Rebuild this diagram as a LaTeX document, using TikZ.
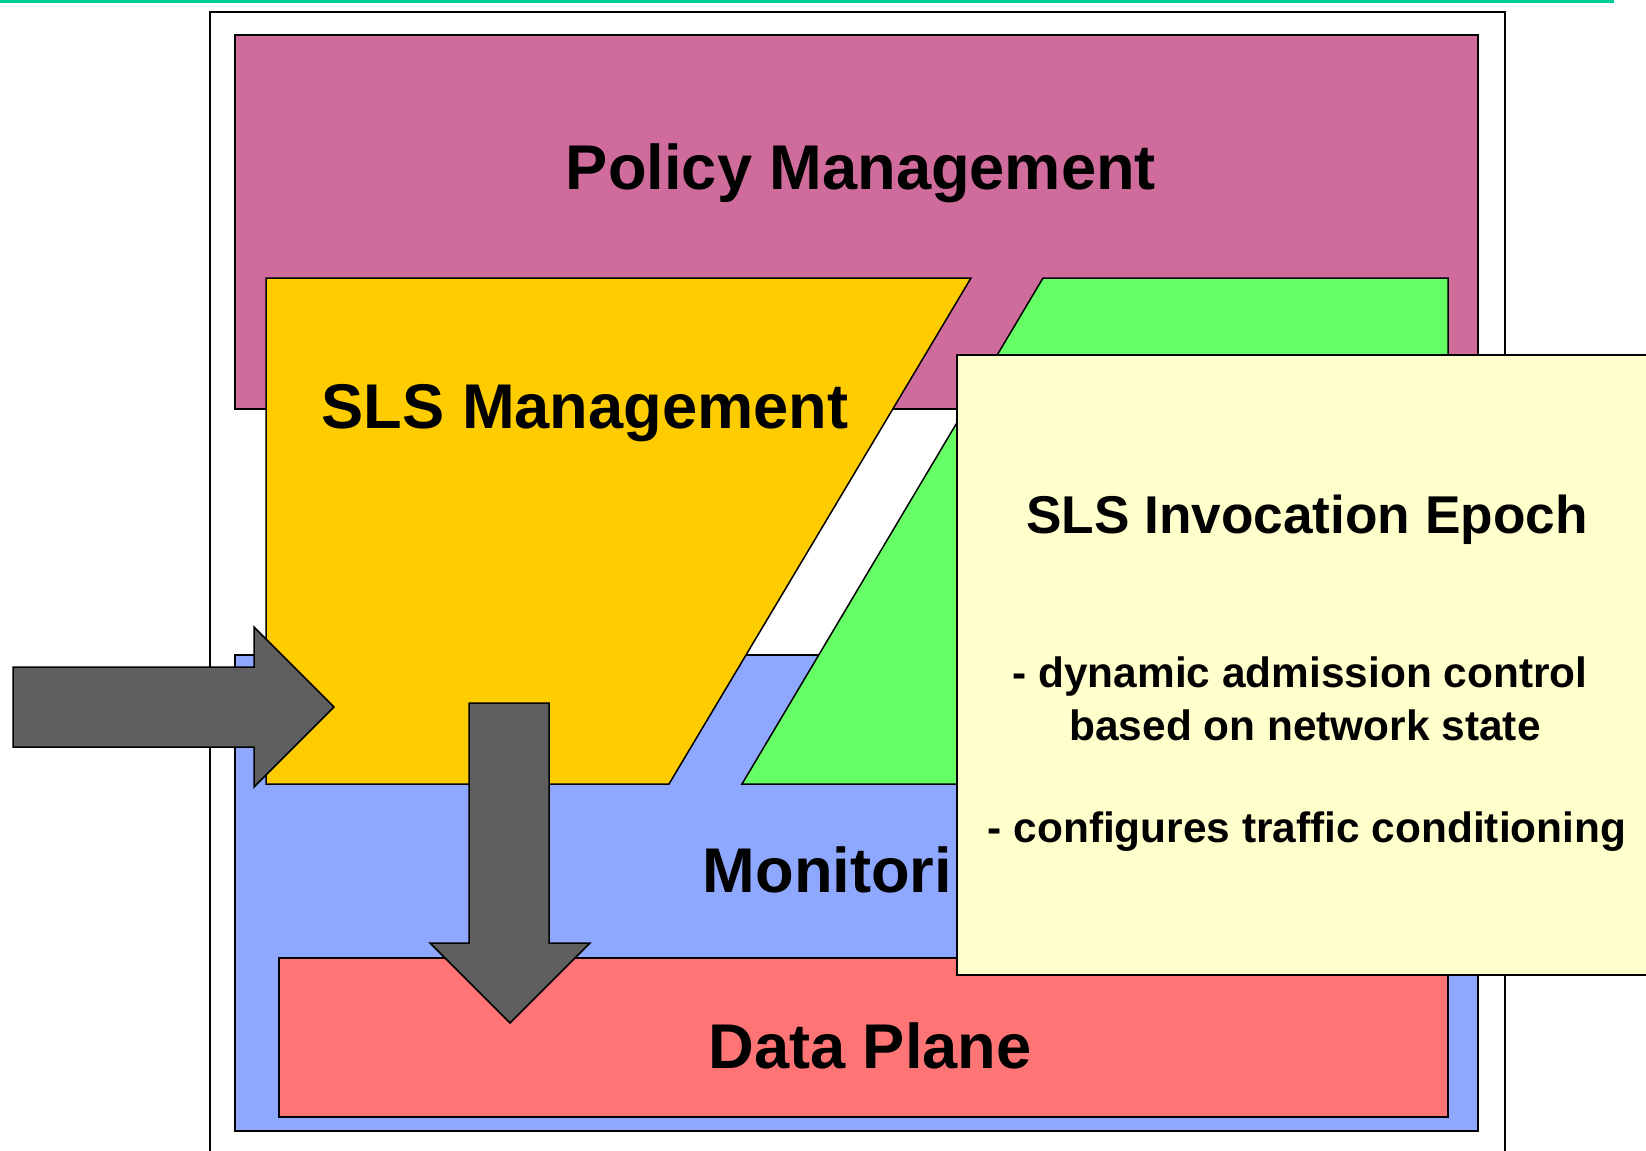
\documentclass[tikz,border=0pt]{standalone}
\usepackage{fontspec}
\setmainfont{Liberation Sans}
\definecolor{policy}{RGB}{207,108,155}
\definecolor{slsmgmt}{RGB}{255,204,0}
\definecolor{invgreen}{RGB}{102,255,102}
\definecolor{monitor}{RGB}{143,168,255}
\definecolor{dataplane}{RGB}{255,117,117}
\definecolor{notebg}{RGB}{255,255,204}
\definecolor{arrowgray}{RGB}{95,95,95}
\definecolor{rule}{RGB}{0,204,153}

\begin{document}
\begin{tikzpicture}[x=0.5pt,y=-0.5pt,
    box/.style={draw=black,line width=0.75pt},
    bigtext/.style={font=\fontsize{31.6}{38}\selectfont\bfseries,anchor=base,inner sep=0pt},
    midtext/.style={font=\fontsize{26.6}{32}\selectfont\bfseries,anchor=base,inner sep=0pt},
    smalltext/.style={font=\fontsize{21.2}{26}\selectfont\bfseries,anchor=base,inner sep=0pt}]
\useasboundingbox (0,0) rectangle (1646,1151);
\clip (0,0) rectangle (1646,1151);
\draw[rule,line width=1.5pt] (0,1.5) -- (1614,1.5);
\draw[box,fill=white] (210,12) rectangle (1505,1180);
% layers
\draw[box,fill=policy] (235,35) rectangle (1478,409);
\draw[box,fill=monitor] (235,655) rectangle (1478,1131);
\draw[box,fill=dataplane] (279,958) rectangle (1448,1117);
\node[bigtext] (policy) at (861,189) {Policy Management};
\node[bigtext] (monitoring) at (866,892) {Monitoring};
\node[bigtext] (data) at (870,1068) {Data Plane};
% management epochs
\draw[box,fill=slsmgmt] (266,278) -- (971,278) -- (669,784) -- (266,784) -- cycle;
\draw[box,fill=invgreen] (1043,278) -- (1448,278) -- (1448,784) -- (742,784) -- cycle;
\node[bigtext] (slsmgmt) at (585,428) {SLS Management};
% note
\draw[box,fill=notebg] (957,355) rectangle (1660,975);
\node[midtext] (epoch) at (1307,533) {SLS Invocation Epoch};
\node[smalltext] (note1) at (1300,687) {- dynamic admission control};
\node[smalltext] (note2) at (1305,740) {based on network state};
\node[smalltext] (note3) at (1307,842) {- configures traffic conditioning};
% block arrows
\draw[box,fill=arrowgray] (13,667) -- (254,667) -- (254,627) -- (334,707)
  -- (254,787) -- (254,747) -- (13,747) -- cycle;
\draw[box,fill=arrowgray] (469,703) -- (549,703) -- (549,943) -- (590,943)
  -- (510,1023) -- (430,943) -- (469,943) -- cycle;
\end{tikzpicture}
\end{document}
